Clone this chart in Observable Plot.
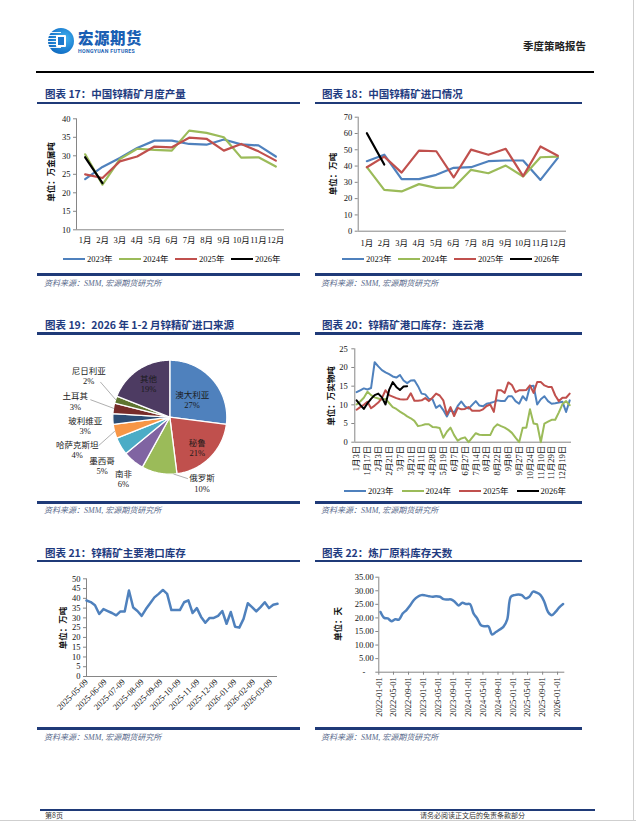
<!DOCTYPE html>
<html lang="zh"><head><meta charset="utf-8">
<script src="https://cdn.jsdelivr.net/npm/d3@7"></script>
<script src="https://cdn.jsdelivr.net/npm/@observablehq/plot@0.6"></script>
<style>
html,body{margin:0;padding:0;background:#fff}
#page{position:relative;width:636px;height:821px;overflow:hidden;background:#fff;font-family:"Noto Sans CJK SC",sans-serif}
.a{position:absolute}
.title{position:absolute;font-weight:700;color:#1F3B80;font-size:10.5px;line-height:12px;white-space:nowrap}
.hr{position:absolute;height:2.5px;background:#1F3A78}
.src{position:absolute;font-size:8px;line-height:10px;color:#5a6b8c;font-style:italic;font-family:"Liberation Serif","Noto Sans CJK SC",serif;white-space:nowrap}
.unit{position:absolute;font-size:8.5px;font-weight:700;white-space:nowrap;transform:translate(-50%,-50%) rotate(-90deg);font-family:"Noto Sans CJK SC";color:#111}
.legend{position:absolute;display:flex;align-items:center;font-family:"Liberation Serif","Noto Sans CJK SC",serif;font-size:8.5px;line-height:10px;color:#111}
.legend .it{display:flex;align-items:center}
.legend .sw{display:inline-block;width:22px;height:2.5px;margin-right:2px}
.chart{position:absolute}
</style></head>
<body><div id="page"></div>
<script>
// ---------- DATA ----------
const years = ["2023年", "2024年", "2025年", "2026年"];
const months = ["1月","2月","3月","4月","5月","6月","7月","8月","9月","10月","11月","12月"];

// 图表17 中国锌精矿月度产量（万金属吨）
const prod2023 = [23.7, 27.0, 29.4, 32.1, 34.1, 34.1, 33.2, 33.0, 34.4, 33.1, 32.8, 29.8];
const prod2024 = [30.4, 22.2, 29.1, 31.9, 31.6, 31.4, 36.8, 36.2, 35.0, 29.5, 29.6, 27.1];
const prod2025 = [25.0, 24.0, 28.5, 29.8, 32.5, 32.3, 34.9, 34.6, 31.4, 33.2, 31.2, 28.7];
const prod2026 = [29.6, 22.6];
const prodTicks = [10, 15, 20, 25, 30, 35, 40];

// 图表18 中国锌精矿进口（万吨）
const imp2023 = [43.0, 47.0, 32.0, 32.0, 34.6, 38.9, 39.3, 43.0, 43.4, 43.4, 31.5, 45.0];
const imp2024 = [39.3, 25.4, 24.4, 28.9, 26.6, 26.8, 37.7, 35.6, 40.3, 33.6, 45.4, 45.8];
const imp2025 = [39.3, 45.8, 36.0, 49.5, 49.1, 33.0, 50.1, 46.9, 50.6, 33.8, 52.0, 46.3];
const imp2026 = [60.2, 40.9];
const impTicks = [0, 10, 20, 30, 40, 50, 60, 70];

// 图表19 2026年1-2月锌精矿进口来源
const pieNames = ["澳大利亚", "秘鲁", "俄罗斯", "南非", "墨西哥", "哈萨克斯坦", "玻利维亚", "土耳其", "尼日利亚", "其他"];
const pieShares = [27, 21, 10, 6, 5, 4, 3, 3, 2, 19];

// 图表20 连云港库存（万实物吨）
const portDates = ["1月3日","1月8日","1月12日","1月17日","1月20日","1月29日","2月3日","2月10日","2月14日","2月21日","2月24日","3月3日","3月7日","3月10日","3月17日","3月21日","3月28日","4月4日","4月11日","4月18日","4月25日","4月28日","5月5日","5月12日","5月19日","5月26日","6月2日","6月7日","6月14日","6月21日","6月27日","7月4日","7月7日","7月14日","7月21日","7月28日","8月2日","8月9日","8月16日","8月22日","8月29日","9月1日","9月8日","9月15日","9月22日","9月27日","10月13日","10月20日","10月24日","10月31日","11月7日","11月10日","11月17日","11月24日","11月29日","12月5日","12月12日","12月19日","12月26日","12月31日"];
const port2023 = [13.4,13.9,14.4,14.1,14.5,21.4,20.3,19.3,18.7,18.2,17.6,17.3,18.0,16.5,15.8,16.5,16.6,15.0,13.0,12.8,11.6,11.5,9.2,9.9,8.6,6.9,8.8,7.8,9.7,10.9,9.6,9.0,10.0,11.0,9.8,9.6,10.3,10.5,10.8,11.2,11.0,11.0,12.3,12.3,11.0,10.3,12.3,11.2,15.0,15.1,10.1,11.5,12.3,11.0,10.3,10.4,10.6,10.8,8.1,11.2];
const port2024 = [10.1,10.9,11.9,13.5,12.6,12.0,11.7,11.4,11.6,10.5,9.4,8.9,8.2,7.6,6.9,6.4,5.7,4.3,4.5,4.8,4.8,4.1,4.0,3.8,1.2,2.8,3.9,1.9,0.4,1.0,1.3,0.0,1.2,2.4,2.0,1.9,1.9,1.9,3.9,4.8,4.3,3.9,3.3,2.5,1.2,0.0,3.9,3.9,8.8,5.0,4.8,0.0,5.0,5.5,6.0,6.0,8.0,10.2,11.0,9.9];
const port2025 = [8.7,9.4,10.0,10.8,9.1,9.8,10.6,11.8,13.9,12.6,12.2,11.8,11.5,11.4,11.5,13.1,11.1,11.1,11.2,11.8,11.0,11.9,13.0,12.5,11.2,7.4,9.4,7.0,9.2,8.8,8.9,9.4,8.4,8.4,8.4,8.8,9.7,10.1,8.1,13.9,13.9,13.2,16.0,15.3,13.4,13.9,13.9,14.0,15.2,13.2,16.1,16.1,15.2,14.8,14.8,12.5,11.0,11.9,11.9,13.0];
const port2026 = [11.2,10.0,8.9,10.4,11.6,12.6,13.0,12.0,10.1,14.0,16.1,14.8,14.0,14.9,15.0];
const portTicks = [0, 5, 10, 15, 20, 25];

// 图表21 主要港口库存（万吨），周度
const mainStart = "2025-05-09";
const mainPort = [38.9,38.1,36.5,32.0,34.5,33.5,32.5,31.3,33.3,33.3,44.0,35.3,33.5,31.0,34.5,37.5,40.5,42.3,44.3,42.3,34.0,34.0,34.0,38.0,39.0,32.5,35.0,30.5,27.5,30.0,30.0,31.0,33.5,27.0,33.0,25.5,25.0,29.5,37.5,35.5,33.3,35.5,38.0,35.0,36.7,37.2];
const mainTickLabels = ["2025-05-09","2025-06-09","2025-07-09","2025-08-09","2025-09-09","2025-10-09","2025-11-09","2025-12-09","2026-01-09","2026-02-09","2026-03-09"];
const mainYTicks = [0,5,10,15,20,25,30,35,40,45,50];

// 图表22 炼厂原料库存天数（天），月度 2022-01 起
const daysStart = "2022-01-15";
const stockDays = [22.2,20.0,19.8,18.8,19.5,19.4,21.6,22.9,24.7,26.6,27.8,28.4,28.3,28.0,27.8,28.0,27.8,26.9,26.8,26.8,25.9,24.6,25.6,25.1,25.1,21.6,19.8,17.3,16.9,16.9,13.9,14.8,15.7,16.7,19.4,27.8,28.4,28.6,28.4,27.2,27.8,29.7,29.3,28.4,25.9,22.2,21.0,22.2,23.9,25.1];
const daysTickLabels = ["2022-01-01","2022-05-01","2022-09-01","2023-01-01","2023-05-01","2023-09-01","2024-01-01","2024-05-01","2024-09-01","2025-01-01","2025-05-01","2025-09-01","2026-01-01"];
const daysYTicks = [0,5,10,15,20,25,30,35];

// ---------- STYLE / LAYOUT ----------
const yearColors = ["#4F81BD", "#9BBB59", "#C0504D", "#000000"];
const pieColors = ["#4F81BD","#C0504D","#9BBB59","#8064A2","#4BACC6","#F79646","#2C4D75","#772C2A","#5F7530","#4D3B62"];
const axisGrey = "#868686";
const page = document.getElementById("page");
const plotStyle = {fontFamily: '"Liberation Serif","Noto Sans CJK SC",serif', fontSize: "8.5px", color: "#111", background: "transparent", overflow: "visible"};

function el(cls, left, top, html, extra) {
  const d = document.createElement("div");
  d.className = cls; d.style.left = left + "px"; d.style.top = top + "px";
  if (html != null) d.innerHTML = html;
  if (extra) Object.assign(d.style, extra);
  page.appendChild(d); return d;
}
function place(node, left, top) {
  const w = document.createElement("div"); w.className = "chart";
  w.style.left = left + "px"; w.style.top = top + "px";
  w.appendChild(node); page.appendChild(w);
}
function legend(left, centerY, pitch) {
  const d = el("legend", left, centerY - 5);
  years.forEach((y, i) => {
    const it = document.createElement("div"); it.className = "it"; it.style.width = pitch + "px";
    it.innerHTML = `<span class="sw" style="background:${yearColors[i]}"></span><span>${y}</span>`;
    d.appendChild(it);
  });
}
function unit(text, cx, cy) { el("unit", cx, cy, text); }
function block(colLeft, ruleLeft, ruleW, titleTop, ruleTop, title, bottomRule, srcTop) {
  el("title", colLeft, titleTop, title);
  el("hr", ruleLeft, ruleTop, null, {width: ruleW + "px"});
  el("hr", ruleLeft, bottomRule, null, {width: ruleW + "px"});
  el("src", colLeft - 1, srcTop, "资料来源：SMM, 宏源期货研究所");
}

// ---------- HEADER ----------
el("a", 48, 28, "", {width: "26px", height: "26px", borderRadius: "50%", background: "radial-gradient(circle at 65% 40%, #44b4f0, #1677cc 60%, #0d5aa8)"});
el("a", 48, 32, "", {width: "13px", height: "18px", background: "repeating-linear-gradient(180deg,#fff 0 1.4px,transparent 1.4px 3px)", opacity: "0.9"});
el("a", 56, 35, "", {width: "10px", height: "12px", background: "#fff", borderRadius: "1px"});
el("a", 58, 37, "", {width: "6px", height: "8px", background: "#1b78cc"});
el("a", 78, 28, "宏源期货", {fontSize: "15.5px", fontWeight: "900", color: "#1a5fb4", lineHeight: "18px", letterSpacing: "0.5px"});
el("a", 78, 48, "HONGYUAN FUTURES", {fontSize: "5.2px", fontWeight: "700", color: "#1a5fb4", fontFamily: "Roboto, sans-serif", letterSpacing: "0.35px", lineHeight: "6px"});
el("a", 523, 40, "季度策略报告", {fontSize: "10.5px", fontWeight: "700", color: "#222", lineHeight: "12px"});
el("a", 36, 71, "", {width: "558px", height: "2px", background: "#000"});

// ---------- BLOCK FRAMES ----------
block(45, 37, 263, 88, 101.5, "图表 17：中国锌精矿月度产量", 273, 279);
block(322, 315, 267, 88, 101.5, "图表 18：中国锌精矿进口情况", 273, 279);
block(45, 37, 263, 319, 332, "图表 19：2026 年 1-2 月锌精矿进口来源", 501, 506);
block(322, 315, 267, 319, 332, "图表 20：锌精矿港口库存：连云港", 501, 506);
block(45, 37, 263, 547, 559.5, "图表 21：锌精矿主要港口库存", 727, 733);
block(322, 315, 267, 547, 559.5, "图表 22：炼厂原料库存天数", 727, 733);

// ---------- CHART 17 ----------
const rows17 = [prod2023, prod2024, prod2025, prod2026].flatMap((arr, s) => arr.map((v, i) => ({m: i + 1, v, s: years[s]})));
place(Plot.plot({
  width: 260, height: 145, marginLeft: 39, marginRight: 13, marginTop: 13.3, marginBottom: 20.7,
  style: plotStyle,
  x: {domain: [0.5, 12.5]}, y: {domain: [10, 40]},
  color: {domain: years, range: yearColors},
  marks: [
    Plot.ruleY([10], {stroke: axisGrey}),
    Plot.ruleX([0.5], {stroke: axisGrey}),
    Plot.axisY({ticks: prodTicks, tickSize: 3, tickPadding: 3, stroke: axisGrey, label: null}),
    Plot.axisX({ticks: d3.range(1, 13), tickFormat: d => months[d - 1], tickSize: 0, tickPadding: 7.5, label: null}),
    Plot.line(rows17, {x: "m", y: "v", z: "s", stroke: "s", strokeWidth: 2.2})
  ]
}), 37, 105);
unit("单位：万金属吨", 50, 172);
legend(63, 259, 56);

// ---------- CHART 18 ----------
const rows18 = [imp2023, imp2024, imp2025, imp2026].flatMap((arr, s) => arr.map((v, i) => ({m: i + 1, v, s: years[s]})));
place(Plot.plot({
  width: 265, height: 145, marginLeft: 42.7, marginRight: 14, marginTop: 11.7, marginBottom: 19.3,
  style: plotStyle,
  x: {domain: [0.5, 12.5]}, y: {domain: [0, 70]},
  color: {domain: years, range: yearColors},
  marks: [
    Plot.ruleY([0], {stroke: axisGrey}),
    Plot.ruleX([0.5], {stroke: axisGrey}),
    Plot.axisY({ticks: impTicks, tickSize: 3, tickPadding: 3, stroke: axisGrey, label: null}),
    Plot.axisX({ticks: d3.range(1, 13), tickFormat: d => months[d - 1], tickSize: 0, tickPadding: 8.5, label: null}),
    Plot.line(rows18, {x: "m", y: "v", z: "s", stroke: "s", strokeWidth: 2.2})
  ]
}), 315, 105);
unit("单位：万吨", 332.3, 174);
legend(342, 259, 56);

// ---------- CHART 19 (pie) ----------
const pieW = 265, pieH = 164, pcx = 132.3, pcy = 78.7, R = 57;
const pieLabelPolar = [[51.7, 0.5], [137.9, 0.72], [154, 1.29], [217, 1.35], [234.5, 1.46], [250.8, 1.72], [264.4, 1.49], [279.5, 1.68], [297.2, 1.6], [327.7, 0.7]];
const leaderSpec = [{i: 2, a: 176, end: [163.9, 1.12]}, {i: 5, end: [248.3, 1.34]}, {i: 7, end: [282.4, 1.42]}, {i: 8, end: [296.8, 1.36]}];
const polar = (ang, r) => [pcx + r * Math.sin(ang), pcy - r * Math.cos(ang)];
const rad = d => d * Math.PI / 180;
const arcs = d3.pie().sort(null).value(d => d)(pieShares);
const sectors = arcs.map((a, i) => {
  const n = Math.max(6, Math.ceil((a.endAngle - a.startAngle) / 0.015));
  const ring = [[pcx, pcy]];
  for (let k = 0; k <= n; k++) ring.push(polar(a.startAngle + (a.endAngle - a.startAngle) * k / n, R));
  ring.push([pcx, pcy]);
  return {type: "Feature", properties: {color: pieColors[i]}, geometry: {type: "Polygon", coordinates: [ring]}};
});
const leaders = leaderSpec.map(s => {
  const a = arcs[s.i];
  const start = polar(s.a != null ? rad(s.a) : (a.startAngle + a.endAngle) / 2, R);
  const end = polar(rad(s.end[0]), s.end[1] * R);
  return {type: "Feature", properties: {}, geometry: {type: "LineString", coordinates: [start, end]}};
});
const pieLabels = pieNames.map((n, i) => {
  const [x, y] = polar(rad(pieLabelPolar[i][0]), pieLabelPolar[i][1] * R);
  return {x, y, text: n + "\n" + pieShares[i] + "%"};
});
place(Plot.plot({
  width: pieW, height: pieH, margin: 0,
  style: plotStyle,
  projection: {type: "identity"},
  color: {type: "identity"},
  marks: [
    Plot.geo(sectors, {fill: d => d.properties.color, stroke: "#fff", strokeWidth: 1.3}),
    Plot.geo(leaders, {stroke: "#9a9a9a", strokeWidth: 0.8, fill: "none"}),
    Plot.text(pieLabels, {x: "x", y: "y", text: "text", lineHeight: 1.25, fontSize: 8.5, fill: "#1a1a1a", fontFamily: '"Liberation Serif","Noto Sans CJK SC",serif'})
  ]
}), 37, 338);

// ---------- CHART 20 ----------
const rows20 = [port2023, port2024, port2025, port2026].flatMap((arr, s) => arr.map((v, i) => ({i, v, s: years[s]})));
place(Plot.plot({
  width: 265, height: 145, marginLeft: 39.3, marginRight: 9, marginTop: 8.3, marginBottom: 43.3,
  style: plotStyle,
  x: {domain: [-0.5, portDates.length - 0.5]}, y: {domain: [0, 25]},
  color: {domain: years, range: yearColors},
  marks: [
    Plot.ruleY([0], {stroke: axisGrey}),
    Plot.ruleX([-0.5], {stroke: axisGrey}),
    Plot.axisY({ticks: portTicks, tickSize: 3, tickPadding: 4, stroke: axisGrey, label: null}),
    Plot.axisX({ticks: d3.range(0, portDates.length, 3), tickFormat: i => portDates[i], tickRotate: -90, tickSize: 0, tickPadding: 3.5, label: null}),
    Plot.line(rows20, {x: "i", y: "v", z: "s", stroke: "s", strokeWidth: 2})
  ]
}), 315, 340);
unit("单位：万实物吨", 330, 396);
legend(344, 491, 57.5);

// ---------- CHART 21 ----------
const t0 = new Date(mainStart + "T00:00:00Z");
const rows21 = mainPort.map((v, k) => ({d: d3.utcDay.offset(t0, 7 * k), v}));
place(Plot.plot({
  width: 260, height: 155, marginLeft: 49, marginRight: 20, marginTop: 13.3, marginBottom: 44,
  style: plotStyle,
  x: {type: "utc", domain: [t0, rows21[rows21.length - 1].d]}, y: {domain: [0, 50]},
  marks: [
    Plot.ruleY([0], {stroke: axisGrey}),
    Plot.ruleX([t0], {stroke: axisGrey}),
    Plot.axisY({ticks: mainYTicks, tickSize: 3, tickPadding: 3, stroke: axisGrey, label: null}),
    Plot.axisX({ticks: mainTickLabels.map(s => new Date(s + "T00:00:00Z")), tickFormat: d3.utcFormat("%Y-%m-%d"), tickRotate: -45, tickSize: 0, tickPadding: 4, label: null}),
    Plot.line(rows21, {x: "d", y: "v", stroke: "#4F81BD", strokeWidth: 2.5})
  ]
}), 37, 565);
unit("单位：万吨", 61.7, 628);

// ---------- CHART 22 ----------
const m0 = new Date(daysStart + "T00:00:00Z");
const rows22 = stockDays.map((v, k) => ({d: d3.utcMonth.offset(m0, k), v}));
place(Plot.plot({
  width: 265, height: 155, marginLeft: 63.3, marginRight: 15.7, marginTop: 11.7, marginBottom: 48.3,
  style: plotStyle,
  x: {type: "utc", domain: [new Date(daysTickLabels[0] + "T00:00:00Z"), new Date("2026-03-01T00:00:00Z")]}, y: {domain: [0, 35]},
  marks: [
    Plot.ruleY([0], {stroke: axisGrey}),
    Plot.ruleX([new Date(daysTickLabels[0] + "T00:00:00Z")], {stroke: axisGrey}),
    Plot.axisY({ticks: daysYTicks, tickFormat: d => d === 0 ? "-\u2007\u2007" : d.toFixed(2), tickSize: 3, tickPadding: 2, stroke: axisGrey, label: null}),
    Plot.axisX({ticks: daysTickLabels.map(s => new Date(s + "T00:00:00Z")), tickFormat: d3.utcFormat("%Y-%m-%d"), tickRotate: -90, tickSize: 3, tickPadding: 2, stroke: axisGrey, label: null}),
    Plot.line(rows22, {x: "d", y: "v", stroke: "#4F81BD", strokeWidth: 2.5, curve: "catmull-rom"})
  ]
}), 315, 565);
unit("单位：天", 336.7, 624);

// ---------- FOOTER ----------
el("a", 40, 808.5, "", {width: "555px", height: "2.5px", background: "#1F3A78"});
el("a", 45, 812, "第8页", {fontSize: "7px", color: "#333", lineHeight: "7px"});
el("a", 420, 812, "请务必阅读正文后的免责条款部分", {fontSize: "7px", color: "#333", lineHeight: "7px"});
el("a", 633, 0, "", {width: "1px", height: "821px", background: "#cfcfcf"});
el("a", 0, 820, "", {width: "636px", height: "1px", background: "#cfcfcf"});
</script>
</body></html>
